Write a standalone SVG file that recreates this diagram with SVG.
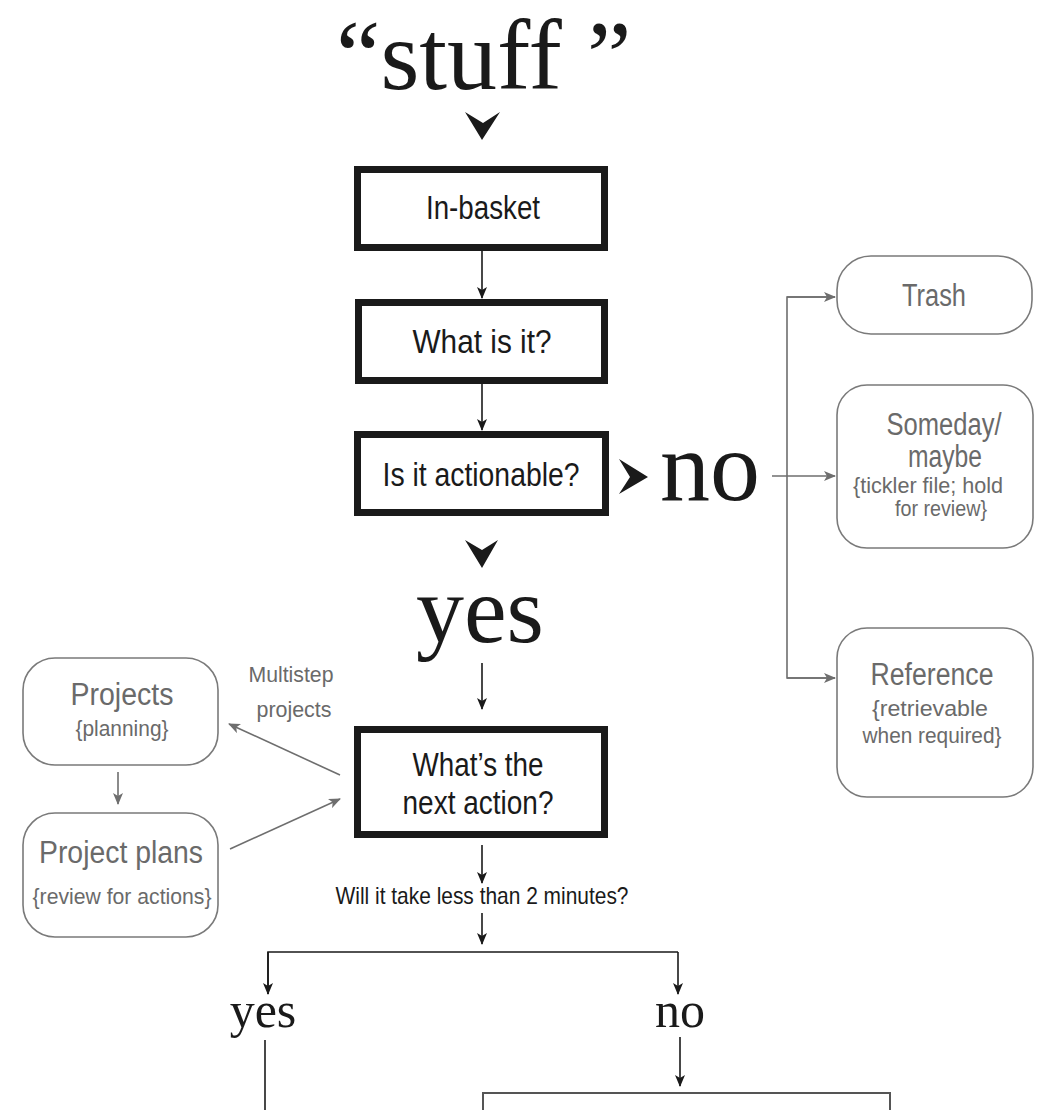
<svg xmlns="http://www.w3.org/2000/svg" width="1037" height="1110" viewBox="0 0 1037 1110">
<style>
.serif{font-family:"Liberation Serif","Times New Roman",serif;fill:#1a1a1a}
.cond{font-family:"Liberation Sans",Arial,sans-serif;text-anchor:middle}
.box{fill:#fff;stroke:#1a1a1a;stroke-width:7}
.gbox{fill:#fff;stroke:#7a7a7a;stroke-width:1.6}
.bt{font-size:33px;fill:#1a1a1a}
.gt{font-size:31px;fill:#6a6a6a}
.gs{font-size:22.5px;fill:#6a6a6a}
.ln{fill:none;stroke:#1a1a1a;stroke-width:1.6}
.gln{fill:none;stroke:#6e6e6e;stroke-width:1.6}
.chev{fill:#1a1a1a}
</style>
<defs>
<marker id="ab" viewBox="0 0 12 10" refX="11" refY="5" markerWidth="12" markerHeight="10" markerUnits="userSpaceOnUse" orient="auto">
<path d="M0,0 L12,5 L0,10 L3,5 z" fill="#1a1a1a"/>
</marker>
<marker id="ag" viewBox="0 0 12 10" refX="11" refY="5" markerWidth="12" markerHeight="10" markerUnits="userSpaceOnUse" orient="auto">
<path d="M0,0 L12,5 L0,10 L3,5 z" fill="#6e6e6e"/>
</marker>
</defs>
<rect width="1037" height="1110" fill="#fff"/>

<g id="title">
<text class="serif" x="336" y="89" font-size="100">“stuff ”</text>
<path class="chev" d="M465,112 L483,123 L500,112 L482,140 z"/>
</g>

<g id="connectors">
<line class="ln" x1="482" y1="251" x2="482" y2="298" marker-end="url(#ab)"/>
<line class="ln" x1="482" y1="384" x2="482" y2="430" marker-end="url(#ab)"/>
<path class="chev" d="M619,459 L648,477 L619,494 L630,477 z"/>
<path class="chev" d="M465,540 L482,550 L498,540 L482,568 z"/>
<line class="ln" x1="482" y1="663" x2="482" y2="709" marker-end="url(#ab)"/>
<line class="ln" x1="482" y1="845" x2="482" y2="883" marker-end="url(#ab)"/>
<line class="ln" x1="482" y1="913" x2="482" y2="944" marker-end="url(#ab)"/>
<path class="ln" d="M268,994 V952 H678"/>
<line class="ln" x1="268" y1="952" x2="268" y2="994" marker-end="url(#ab)"/>
<line class="ln" x1="678" y1="952" x2="678" y2="994" marker-end="url(#ab)"/>
<line class="ln" x1="680" y1="1037" x2="680" y2="1086" marker-end="url(#ab)"/>
<line class="ln" x1="265" y1="1040" x2="265" y2="1110"/>
<line class="gln" x1="772" y1="476" x2="835" y2="476" marker-end="url(#ag)"/>
<path class="gln" d="M835,297 H787 V678 H835"/>
<line class="gln" x1="787" y1="297" x2="835" y2="297" marker-end="url(#ag)"/>
<line class="gln" x1="787" y1="678" x2="835" y2="678" marker-end="url(#ag)"/>
<line class="gln" x1="340" y1="775" x2="229" y2="724" marker-end="url(#ag)"/>
<line class="gln" x1="230" y1="849" x2="340" y2="799" marker-end="url(#ag)"/>
<line class="gln" x1="118" y1="772" x2="118" y2="804" marker-end="url(#ag)"/>
<text class="cond gs" x="291" y="682" textLength="85" lengthAdjust="spacingAndGlyphs">Multistep</text>
<text class="cond gs" x="294" y="717" textLength="75" lengthAdjust="spacingAndGlyphs">projects</text>
</g>

<g id="inbasket">
<rect class="box" x="357.5" y="169.5" width="247" height="78"/>
<text class="cond bt" x="483" y="219" textLength="114" lengthAdjust="spacingAndGlyphs">In-basket</text>
</g>
<g id="whatisit">
<rect class="box" x="358.5" y="302.5" width="246" height="78"/>
<text class="cond bt" x="482" y="353" textLength="139" lengthAdjust="spacingAndGlyphs">What is it?</text>
</g>
<g id="actionable">
<rect class="box" x="357.5" y="434.5" width="248" height="78"/>
<text class="cond bt" x="481" y="486" textLength="197" lengthAdjust="spacingAndGlyphs">Is it actionable?</text>
</g>
<g id="no-label">
<text class="serif" x="660" y="500" font-size="100">no</text>
</g>
<g id="yes-label">
<text class="serif" x="416" y="642" font-size="96">yes</text>
</g>

<g id="trash">
<rect class="gbox" x="837" y="256" width="195" height="78" rx="34"/>
<text class="cond gt" x="934" y="306" textLength="64" lengthAdjust="spacingAndGlyphs">Trash</text>
</g>
<g id="someday">
<rect class="gbox" x="837" y="385" width="196" height="163" rx="30"/>
<text class="cond gt" x="944" y="435" textLength="115" lengthAdjust="spacingAndGlyphs">Someday/</text>
<text class="cond gt" x="945" y="467" textLength="74" lengthAdjust="spacingAndGlyphs">maybe</text>
<text class="cond gs" x="928" y="493" textLength="150" lengthAdjust="spacingAndGlyphs">{tickler file; hold</text>
<text class="cond gs" x="941" y="516" textLength="92" lengthAdjust="spacingAndGlyphs">for review}</text>
</g>
<g id="reference">
<rect class="gbox" x="837" y="628" width="196" height="169" rx="30"/>
<text class="cond gt" x="932" y="685" textLength="123" lengthAdjust="spacingAndGlyphs">Reference</text>
<text class="cond gs" x="930" y="716" textLength="116" lengthAdjust="spacingAndGlyphs">{retrievable</text>
<text class="cond gs" x="932" y="743" textLength="139" lengthAdjust="spacingAndGlyphs">when required}</text>
</g>

<g id="projects">
<rect class="gbox" x="23" y="658" width="195" height="107" rx="32"/>
<text class="cond gt" x="122" y="705" textLength="103" lengthAdjust="spacingAndGlyphs">Projects</text>
<text class="cond gs" x="122" y="736" textLength="93" lengthAdjust="spacingAndGlyphs">{planning}</text>
</g>
<g id="projectplans">
<rect class="gbox" x="23" y="813" width="195" height="124" rx="32"/>
<text class="cond gt" x="121" y="863" textLength="164" lengthAdjust="spacingAndGlyphs">Project plans</text>
<text class="cond gs" x="122" y="904" textLength="179" lengthAdjust="spacingAndGlyphs">{review for actions}</text>
</g>

<g id="nextaction">
<rect class="box" x="357.5" y="729.5" width="247" height="105"/>
<text class="cond bt" x="478" y="776" textLength="131" lengthAdjust="spacingAndGlyphs">What’s the</text>
<text class="cond bt" x="478" y="814" textLength="151" lengthAdjust="spacingAndGlyphs">next action?</text>
</g>
<g id="twominutes">
<text class="cond" x="482" y="904" font-size="24" fill="#1a1a1a" textLength="293" lengthAdjust="spacingAndGlyphs">Will it take less than 2 minutes?</text>
</g>
<g id="yes2">
<text class="serif" x="263" y="1027" font-size="50" text-anchor="middle">yes</text>
</g>
<g id="no2">
<text class="serif" x="680" y="1027" font-size="50" text-anchor="middle">no</text>
</g>
<g id="nextbox">
<rect x="483" y="1093" width="407" height="40" fill="#fff" stroke="#555" stroke-width="2"/>
</g>
</svg>
